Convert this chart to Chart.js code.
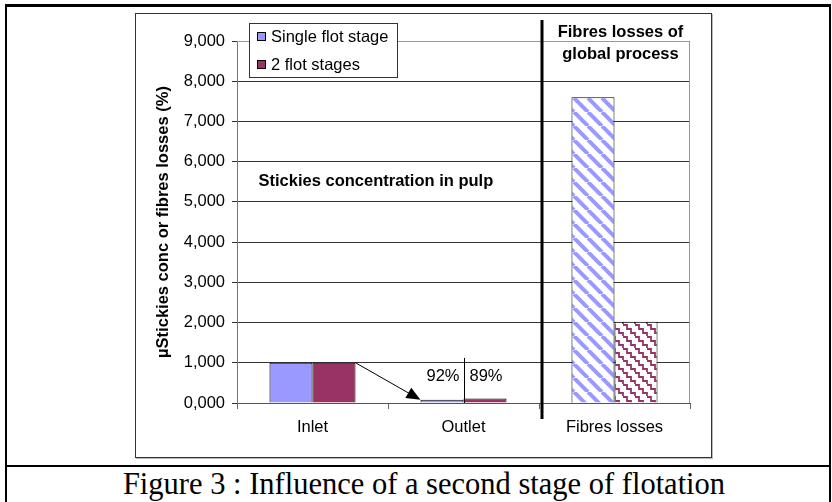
<!DOCTYPE html>
<html>
<head>
<meta charset="utf-8">
<script src="https://cdn.jsdelivr.net/npm/chart.js@4"></script>
<style>
body { margin:0; width:832px; height:502px; background:#fff; position:relative; overflow:hidden; }
#frame { position:absolute; left:5px; top:4px; width:826px; height:500px; box-sizing:border-box;
         border-left:2px solid #000; border-top:3px solid #000; border-right:2px solid #000; }
#sep { position:absolute; left:5px; top:465px; width:826px; height:2px; background:#000; }
#box { position:absolute; left:135px; top:13px; width:577px; height:445px; box-sizing:border-box;
       border:1px solid #333; box-shadow:1px 1px 0 #bbb; }
#caption { position:absolute; left:8px; top:467px; width:832px; text-align:center;
           font:30.5px 'Liberation Serif', 'Times New Roman', serif; line-height:34px; color:#000; }
#chart { position:absolute; left:0; top:0; }
</style>
</head>
<body>
<div id="frame"></div>
<div id="sep"></div>
<div id="box"></div>
<div id="caption">Figure 3 : Influence of a second stage of flotation</div>
<canvas id="chart" width="832" height="502"></canvas>
<script>
// values (axis uses decimal comma)
var categories = ['Inlet', 'Outlet', 'Fibres losses'];
var series_names = ['Single flot stage', '2 flot stages'];
var single_stage = [1.0, 0.08, 7.6];
var two_stages = [1.0, 0.11, 2.02];
var reductions = ['92%', '89%'];
var y_ticks = [0, 1, 2, 3, 4, 5, 6, 7, 8, 9];

var FONT = "'Liberation Sans', Arial, sans-serif";
var BLUE = '#9999FF';
var PLUM = '#993366';

function stripe_pattern(color)
{
    var c = document.createElement('canvas');
    c.width = c.height = 14;
    var g = c.getContext('2d');
    g.fillStyle = '#fff';
    g.fillRect(0, 0, 14, 14);
    g.strokeStyle = color;
    g.lineWidth = 4;
    [-14, 0, 14].forEach(function(o) {
        g.beginPath(); g.moveTo(o, 0); g.lineTo(o + 14, 14); g.stroke();
    });
    return g.createPattern(c, 'repeat');
}

function zigzag_pattern(color)
{
    var c = document.createElement('canvas');
    c.width = c.height = 12;
    var g = c.getContext('2d');
    g.fillStyle = '#fff';
    g.fillRect(0, 0, 12, 12);
    g.strokeStyle = color;
    g.lineWidth = 1.8;
    [-12, 0, 12].forEach(function(o) {
        g.beginPath();
        for (var k = 0; k <= 6; k++) {
            var t = k * 2, s = (k % 2 ? 1 : -1);
            var px = o + t + s, py = t - s;
            if (k == 0) g.moveTo(px, py); else g.lineTo(px, py);
        }
        g.stroke();
    });
    return g.createPattern(c, 'repeat');
}

var overlay = {
    id: 'overlay',
    afterDraw: function(chart) {
        var ctx = chart.ctx, a = chart.chartArea, xs = chart.scales.x, ys = chart.scales.y;
        ctx.save();

        // plot area border (top / right)
        ctx.strokeStyle = '#999';
        ctx.lineWidth = 1;
        ctx.beginPath();
        ctx.moveTo(a.left, a.top + 0.5);
        ctx.lineTo(a.right - 0.5, a.top + 0.5);
        ctx.lineTo(a.right - 0.5, a.bottom);
        ctx.stroke();

        // thick divider between concentration and fibres losses
        var xb = (xs.getPixelForValue(1) + xs.getPixelForValue(2)) / 2 + 3;
        ctx.strokeStyle = '#000';
        ctx.lineWidth = 3;
        ctx.beginPath();
        ctx.moveTo(xb, a.top - 21);
        ctx.lineTo(xb, a.bottom + 16);
        ctx.stroke();

        // arrow from inlet to outlet
        var b1 = chart.getDatasetMeta(1).data[0];
        var b0 = chart.getDatasetMeta(0).data[1];
        var sx = b1.x + b1.width / 2, sy = b1.y;
        var ex = b0.x - b0.width / 2, ey = b0.y;
        var dx = ex - sx, dy = ey - sy, len = Math.sqrt(dx * dx + dy * dy);
        var ux = dx / len, uy = dy / len;
        ctx.lineWidth = 1;
        ctx.beginPath();
        ctx.moveTo(sx, sy);
        ctx.lineTo(ex - ux * 10, ey - uy * 10);
        ctx.stroke();
        ctx.fillStyle = '#000';
        ctx.beginPath();
        ctx.moveTo(ex, ey);
        ctx.lineTo(ex - ux * 14 - uy * 6, ey - uy * 14 + ux * 6);
        ctx.lineTo(ex - ux * 14 + uy * 6, ey - uy * 14 - ux * 6);
        ctx.closePath();
        ctx.fill();

        // reduction labels around outlet
        var cx = Math.round(xs.getPixelForValue(1)) + 0.5;
        ctx.beginPath();
        ctx.moveTo(cx, ys.getPixelForValue(1.12));
        ctx.lineTo(cx, a.bottom);
        ctx.stroke();
        ctx.font = '16.5px ' + FONT;
        ctx.textBaseline = 'middle';
        ctx.textAlign = 'right';
        ctx.fillText(reductions[0], cx - 5, ys.getPixelForValue(0.65));
        ctx.textAlign = 'left';
        ctx.fillText(reductions[1], cx + 5, ys.getPixelForValue(0.65));

        // section labels
        ctx.font = 'bold 16.5px ' + FONT;
        ctx.textAlign = 'left';
        ctx.fillText('Stickies concentration in pulp', xs.getPixelForValue(0) - 54, ys.getPixelForValue(5.5));
        ctx.textAlign = 'center';
        var fx = xs.getPixelForValue(2) + 6;
        ctx.fillText('Fibres losses of', fx, a.top - 9);
        ctx.fillText('global process', fx, a.top + 13);

        // legend
        var lx = a.left + 12, ly = a.top - 18;
        ctx.fillStyle = '#fff';
        ctx.fillRect(lx, ly, 148, 54);
        ctx.strokeStyle = '#333';
        ctx.strokeRect(lx + 0.5, ly + 0.5, 148, 54);
        ctx.font = '16.5px ' + FONT;
        ctx.textAlign = 'left';
        chart.data.datasets.forEach(function(ds, i) {
            var yy = ly + 13 + i * 28;
            ctx.fillStyle = ds.legendColor;
            ctx.fillRect(lx + 8, yy - 4, 9, 9);
            ctx.strokeStyle = '#000';
            ctx.strokeRect(lx + 8.5, yy - 3.5, 8, 8);
            ctx.fillStyle = '#000';
            ctx.fillText(ds.label, lx + 22, yy + 1);
        });
        ctx.restore();
    }
};

window.addEventListener('load', function()
{
    var chart = new Chart(document.getElementById('chart'), {
        type: 'bar',
        data: {
            labels: categories,
            datasets: [
                {
                    label: series_names[0],
                    data: single_stage,
                    legendColor: BLUE,
                    backgroundColor: [BLUE, BLUE, stripe_pattern(BLUE)],
                    borderColor: '#000',
                    borderWidth: 1
                },
                {
                    label: series_names[1],
                    data: two_stages,
                    legendColor: PLUM,
                    backgroundColor: [PLUM, PLUM, zigzag_pattern(PLUM)],
                    borderColor: '#000',
                    borderWidth: 1
                }
            ]
        },
        options: {
            responsive: false,
            animation: false,
            events: [],
            categoryPercentage: 0.57,
            barPercentage: 1.0,
            layout: { padding: { left: 135, right: 142, top: 41, bottom: 45 } },
            plugins: { legend: { display: false }, tooltip: { enabled: false } },
            scales: {
                x: {
                    afterFit: function(s) { s.height = 54; },
                    grid: { offset: true, drawOnChartArea: false, color: '#666', tickLength: 6 },
                    border: { color: '#555' },
                    ticks: { color: '#000', font: { family: FONT, size: 16.5 }, padding: 9 }
                },
                y: {
                    min: 0,
                    max: 9,
                    afterFit: function(s) { s.width = 102; },
                    afterBuildTicks: function(s) { s.ticks = y_ticks.map(function(v) { return { value: v }; }); },
                    grid: { color: '#333', tickLength: 5 },
                    border: { color: '#777' },
                    ticks: {
                        color: '#000',
                        padding: 7,
                        font: { family: FONT, size: 16.5 },
                        callback: function(v) { return v.toFixed(3).replace('.', ','); }
                    },
                    title: {
                        display: true,
                        text: 'µStickies conc or fibres losses (%)',
                        color: '#000',
                        font: { family: FONT, size: 16.5, weight: 'bold' },
                        padding: { top: 19, bottom: 0 }
                    }
                }
            }
        },
        plugins: [overlay]
    });
});
</script>
</body>
</html>
